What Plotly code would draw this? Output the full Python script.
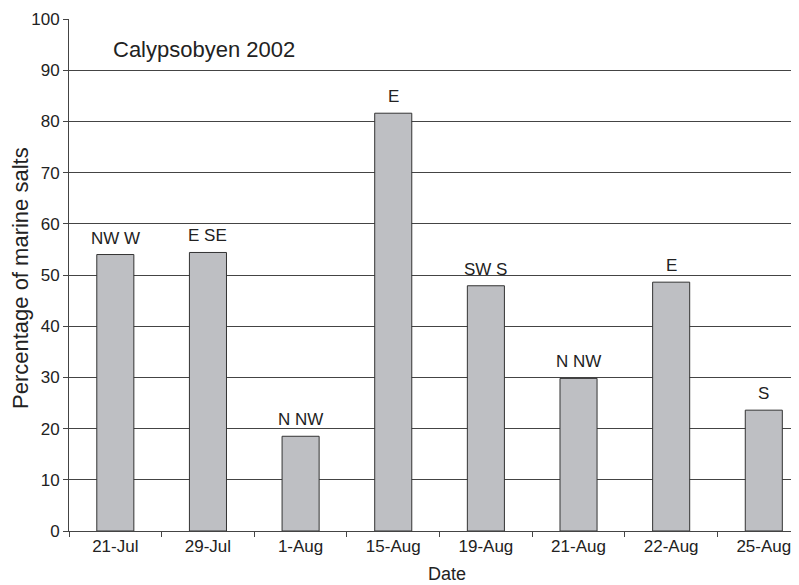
import plotly.graph_objects as go

dates = ["21-Jul", "29-Jul", "1-Aug", "15-Aug", "19-Aug", "21-Aug", "22-Aug", "25-Aug"]
marine_pct = [54.0, 54.4, 18.5, 81.6, 47.9, 29.8, 48.6, 23.6]
wind_dirs = ["NW W", "E SE", "N NW", "E", "SW S", "N NW", "E", "S"]

FONT = "Liberation Sans, Arial, sans-serif"
GRID = "#444444"
TXT = "#222222"

fig = go.Figure()
fig.add_trace(go.Bar(
    x=dates, y=marine_pct, width=0.40,
    marker=dict(color="#BEBFC3", line=dict(color="#333333", width=1)),
    hoverinfo="x+y", showlegend=False,
))

for d, v, w in zip(dates, marine_pct, wind_dirs):
    fig.add_annotation(x=d, y=v, text=w, showarrow=False, xanchor="center",
                       yanchor="bottom", yshift=5, font=dict(family=FONT, size=17, color=TXT))

fig.add_annotation(xref="paper", yref="paper", x=0.058, y=0.94, text="Calypsobyen 2002",
                   showarrow=False, xanchor="left", yanchor="middle",
                   font=dict(family=FONT, size=22, color=TXT))

# axis titles
fig.add_annotation(xref="paper", yref="paper", x=0, y=0.5, xshift=-49, yshift=-3,
                   text="Percentage of marine salts", textangle=-90, showarrow=False,
                   xanchor="center", yanchor="middle",
                   font=dict(family=FONT, size=22, color=TXT))
fig.add_annotation(xref="paper", yref="paper", x=0.518, y=0, yshift=-43,
                   text="Date", showarrow=False, xanchor="center", yanchor="middle",
                   font=dict(family=FONT, size=18, color=TXT))

# page body has an 8px margin, so the figure is sized to end at the window edge
fig.update_layout(
    width=791, height=577,
    margin=dict(l=61, r=0, t=11, b=54, autoexpand=False),
    paper_bgcolor="white", plot_bgcolor="white",
    font=dict(family=FONT, size=17, color=TXT),
)
fig.update_xaxes(
    type="category", range=[-0.5, 7.38], automargin=False,
    showline=True, linecolor=GRID, linewidth=1,
    ticks="outside", ticklen=5, tickcolor=GRID, tickson="boundaries",
    showgrid=False,
    tickfont=dict(family=FONT, size=17, color=TXT),
)
fig.update_yaxes(
    range=[0, 100], dtick=10, automargin=False,
    showline=True, linecolor=GRID, linewidth=1,
    ticks="outside", ticklen=5, tickcolor=GRID,
    showgrid=True, gridcolor=GRID, gridwidth=1, zeroline=False,
    tickfont=dict(family=FONT, size=17, color=TXT),
)

fig.write_html("out.html")
